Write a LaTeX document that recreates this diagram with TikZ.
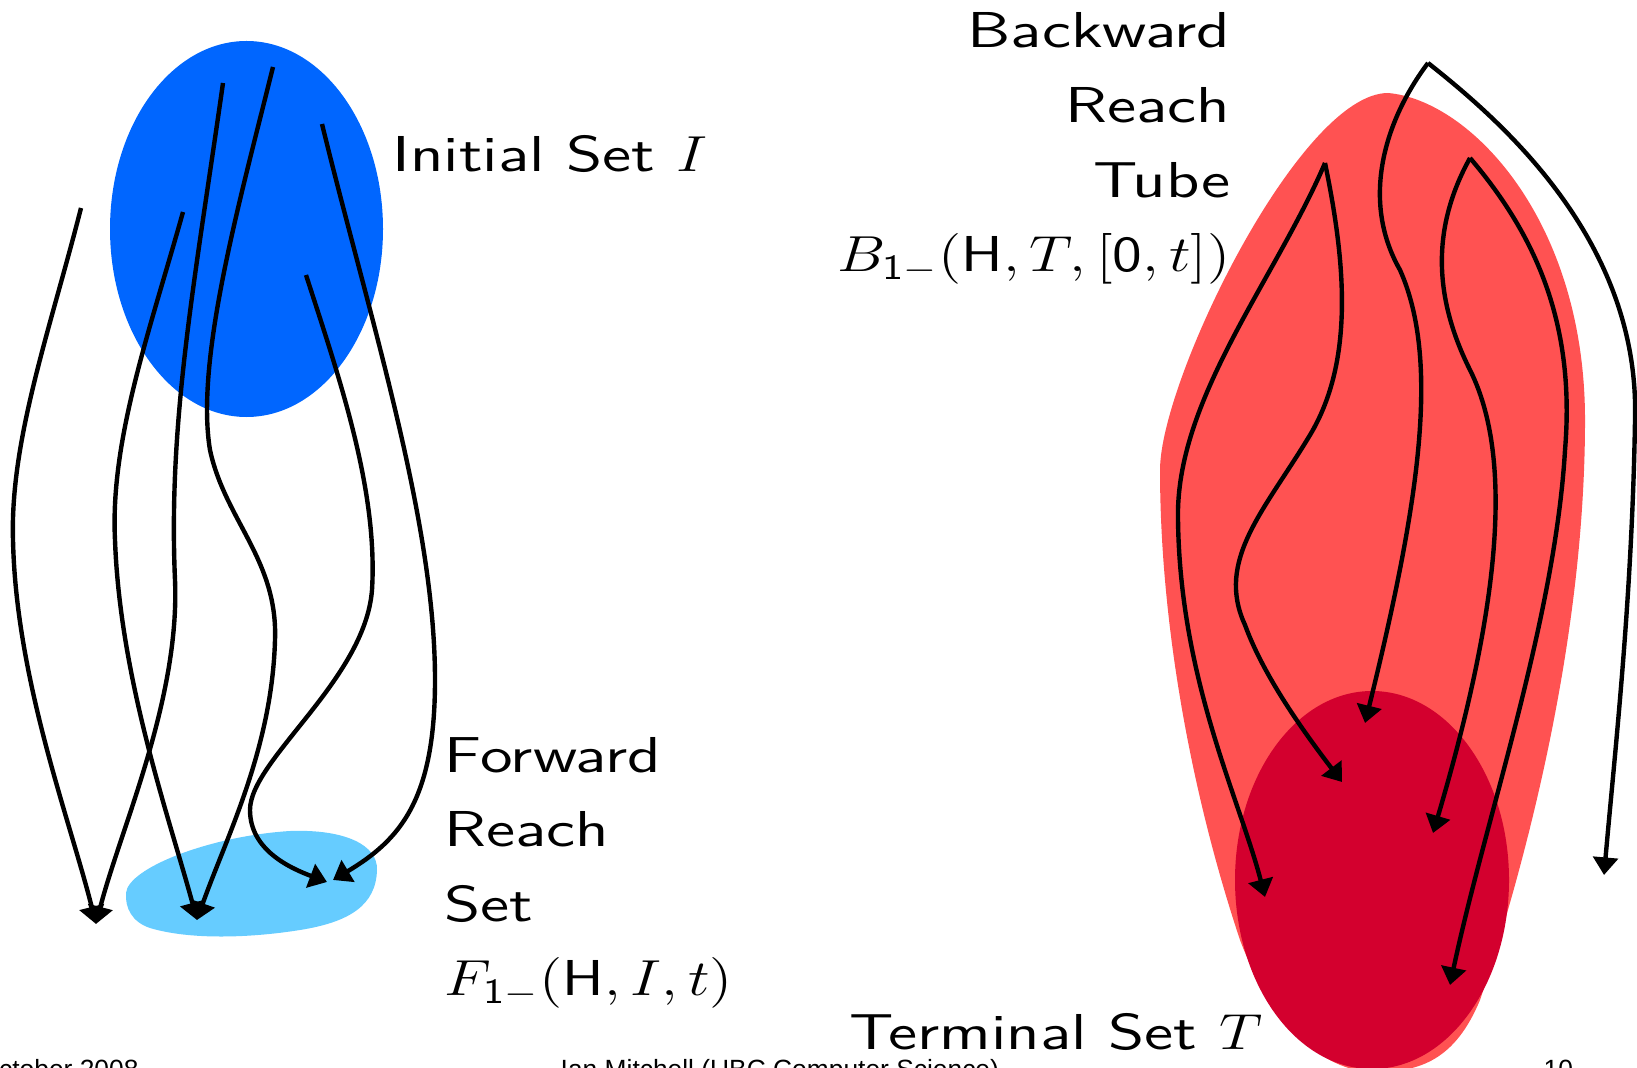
\documentclass[tikz,border=0pt]{standalone}
\usepackage{graphicx}
\usepackage{fontspec}
\usetikzlibrary{arrows.meta}
\newfontfamily\footfont{Liberation Sans}
\definecolor{initblue}{RGB}{0,102,255}
\definecolor{fwdblue}{RGB}{102,204,255}
\definecolor{tubered}{RGB}{255,82,82}
\definecolor{termred}{RGB}{211,0,46}
\newcommand{\wide}[1]{\scalebox{1.32}[1]{#1}}
\newcommand{\widem}[1]{\scalebox{1.2}[1]{#1}}
\newcommand{\Hsys}{\mathsf{H}}
\newcommand{\lines}[2]{\begin{tabular}[t]{@{}#1@{}}#2\end{tabular}}

\begin{document}
\begin{tikzpicture}[x=0.01cm,y=-0.01cm]
\tikzstyle{every node}=[inner sep=0pt,font=\sffamily\fontsize{14.35}{21.2}\selectfont]
\tikzstyle{footer}=[font=\footfont\fontsize{7.5}{9}\selectfont,anchor=base west]
\tikzstyle{traj}=[line width=1.25pt,-{Triangle[length=5pt,width=7pt]}]
\useasboundingbox (0,0) rectangle (1637,1067);
% sets
\fill[initblue] (246.5,229) ellipse [x radius=136.5, y radius=188];
\fill[fwdblue] (126,893) .. controls (128,868) and (210,836) .. (290,831)
  .. controls (345,829) and (378,845) .. (377,870)
  .. controls (376,905) and (350,922) .. (300,930)
  .. controls (250,938) and (190,940) .. (150,928)
  .. controls (132,922) and (125,908) .. (126,893) -- cycle;
\fill[tubered] (1388,93) .. controls (1470,100) and (1585,220) .. (1585,420)
  .. controls (1585,650) and (1520,880) .. (1480,1000)
  .. controls (1455,1060) and (1420,1072) .. (1375,1072)
  .. controls (1320,1072) and (1270,1020) .. (1240,940)
  .. controls (1190,790) and (1160,620) .. (1160,470)
  .. controls (1160,380) and (1300,93) .. (1388,93) -- cycle;
\fill[termred] (1372,880) ellipse [x radius=137, y radius=189];
% labels
\node[anchor=base west] (init) at (392,172) {\wide{Initial Set }\widem{$I$}};
\node[anchor=base west] (fwd) at (444,772) {\lines{l}{\wide{Forward}\\\wide{Reach}\\\wide{Set}\\\widem{$F_{\mathsf{1}-}(\Hsys,I,t)$}}};
\node[anchor=base east] (bwd) at (1231,48) {\lines{r}{\wide{Backward}\\\wide{Reach}\\\wide{Tube}\\\widem{$B_{\mathsf{1}-}(\Hsys,T,[\mathsf{0},t])$}}};
\node[anchor=base west] (term) at (849,1049) {\wide{Terminal Set }\widem{$T$}};
\node[footer] (date) at (-22,1078) {October 2008};
\node[footer] (auth) at (560,1078) {Ian Mitchell (UBC Computer Science)};
\node[footer] (page) at (1543,1078) {10};
% forward trajectories
\coordinate (ta) at (96,924);
\coordinate (tb) at (197,920);
\coordinate (tc) at (327,882);
\coordinate (td) at (333,880);
\draw[traj] (81,208) .. controls (50,330) and (10,440) .. (13,540) .. controls (16,680) and (70,820) .. (ta);
\draw[traj] (183,212) .. controls (150,330) and (110,440) .. (115,540) .. controls (120,680) and (170,820) .. (tb);
\draw[traj] (223,83) .. controls (195,280) and (168,420) .. (175,580) .. controls (180,700) and (120,830) .. (ta);
\draw[traj] (273,67) .. controls (240,200) and (195,360) .. (210,450) .. controls (225,520) and (278,560) .. (275,640)
  .. controls (272,750) and (225,840) .. (tb);
\draw[traj] (322,124) .. controls (370,320) and (435,520) .. (435,680) .. controls (435,800) and (400,840) .. (td);
\draw[traj] (306,275) .. controls (340,380) and (378,490) .. (372,590) .. controls (365,680) and (250,760) .. (250,810)
  .. controls (250,850) and (290,868) .. (tc);
% backward trajectories
\coordinate (p1) at (1325,163);
\coordinate (p2) at (1428,63);
\coordinate (p3) at (1470,158);
\coordinate (r0) at (1265,897);
\coordinate (r1) at (1342,782);
\coordinate (r2) at (1365,723);
\coordinate (r3) at (1604,875);
\coordinate (r4) at (1433,833);
\coordinate (r5) at (1450,985);
\draw[traj] (p1) .. controls (1275,280) and (1175,400) .. (1178,520) .. controls (1180,680) and (1240,800) .. (r0);
\draw[traj] (p1) .. controls (1345,260) and (1355,360) .. (1310,435) .. controls (1265,510) and (1215,560) .. (1245,625)
  .. controls (1265,680) and (1310,740) .. (r1);
\draw[traj] (p2) .. controls (1385,120) and (1360,200) .. (1400,270) .. controls (1440,360) and (1420,500) .. (r2);
\draw[traj] (p2) .. controls (1500,120) and (1640,240) .. (1635,420) .. controls (1632,600) and (1615,750) .. (r3);
\draw[traj] (p3) .. controls (1430,230) and (1435,300) .. (1470,370) .. controls (1520,470) and (1490,640) .. (r4);
\draw[traj] (p3) .. controls (1540,240) and (1575,330) .. (1565,450) .. controls (1555,620) and (1485,820) .. (r5);
\end{tikzpicture}
\end{document}
